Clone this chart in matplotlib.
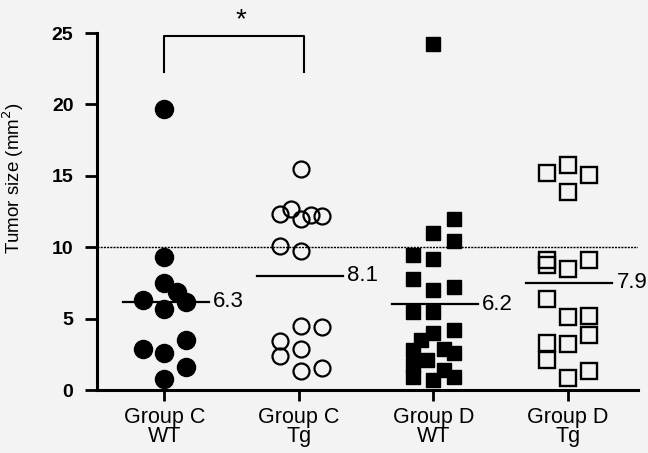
import matplotlib
matplotlib.use("Agg")
import matplotlib.pyplot as plt

plt.rcParams['font.family'] = ['Liberation Sans', 'DejaVu Sans']

groups = ['Group C\nWT', 'Group C\nTg', 'Group D\nWT', 'Group D\nTg']

# tumor sizes (mm^2) and the jitter column each point sits in
c_wt = [19.7, 9.3, 7.5, 6.9, 6.3, 6.2, 5.65, 3.5, 2.85, 2.57, 1.63, 0.77]
c_wt_col = [0, 0, 0, 0.6, -1, 1.05, 0, 1.05, -1, 0, 1.05, 0]

c_tg = [15.5, 12.3, 12.7, 12.0, 12.25, 12.2, 10.1, 9.75, 4.5, 4.4, 3.45, 2.9, 2.35, 1.35, 1.55]
c_tg_col = [0.1, -0.9, -0.4, 0.1, 0.6, 1.1, -0.9, 0.1, 0.1, 1.1, -0.9, 0.1, -0.9, 0.1, 1.1]

d_wt = [24.2, 12.0, 11.0, 10.45, 9.45, 9.2, 7.75, 7.0, 7.2, 5.5, 5.5,
        4.2, 3.97, 3.5, 2.8, 2.9, 2.6, 2.1, 1.75, 1.4, 0.93, 0.7, 0.93]
d_wt_col = [0, 1, 0, 1, -1, 0, -1, 0, 1, -1, 0,
            1, 0, -0.6, -1, 0.5, 1, -0.3, -1, 0.5, -1, 0, 1]

d_tg = [15.2, 15.75, 15.05, 13.9, 9.1, 8.75, 8.5, 9.1, 6.35, 5.1, 5.15,
        3.85, 3.3, 3.2, 2.1, 1.35, 0.82]
d_tg_col = [-1, 0, 1, 0, -1, -1, 0, 1, -1, 0, 1, 1, -1, 0, -1, 1, 0]

mean_levels = [6.2, 8.0, 6.0, 7.5]
mean_labels = ['6.3', '8.1', '6.2', '7.9']

slot = 0.155

fig = plt.figure(figsize=(6.48, 4.53), dpi=100)
fig.patch.set_facecolor('#f3f3f3')
ax = fig.add_axes([0.1497, 0.139, 0.8349, 0.788])
ax.set_facecolor('none')

def xs(i, cols):
    return [i + 1 + c * slot for c in cols]

ax.plot(xs(0, c_wt_col), c_wt, 'o', ms=13, mfc='black', mec='black', clip_on=False)
ax.plot(xs(1, c_tg_col), c_tg, 'o', ms=11.5, mfc='none', mec='black', mew=1.6, clip_on=False)
ax.plot(xs(2, d_wt_col), d_wt, 's', ms=10.5, mfc='black', mec='black', clip_on=False)
ax.plot(xs(3, d_tg_col), d_tg, 's', ms=12, mfc='none', mec='black', mew=1.7, clip_on=False)

for i in range(4):
    ax.plot([i + 1 - 0.31, i + 1 + 0.33], [mean_levels[i]] * 2, color='black', lw=1.6)
    ax.text(i + 1 + 0.36, mean_levels[i], mean_labels[i], ha='left', va='center', fontsize=16)

# reference line at 10
ax.axhline(10, color='black', lw=1, ls=(0, (1.5, 0.8)))

# significance bracket
ax.plot([1, 1, 2.04, 2.04], [22.3, 24.8, 24.8, 22.3], color='black', lw=1.5, clip_on=False)
ax.text(1.57, 25.0, '*', ha='center', va='bottom', fontsize=20)

ax.set_xlim(0.5, 4.52)
ax.set_ylim(0, 25)
ax.set_xticks([1, 2, 3, 4])
ax.set_xticklabels(groups, fontsize=15.5, linespacing=0.9)
ax.set_yticks([0, 5, 10, 15, 20, 25])
ax.set_yticklabels(['0', '5', '10', '15', '20', '25'], fontsize=14, fontweight='bold')
ax.tick_params(axis='y', length=9, width=2, pad=8)
ax.tick_params(axis='x', length=8, width=2, pad=4)

for s in ['top', 'right']:
    ax.spines[s].set_visible(False)
for s in ['left', 'bottom']:
    ax.spines[s].set_linewidth(2.2)

ax.set_ylabel('Tumor size (mm$^2$)', fontsize=13.5)
ax.yaxis.set_label_coords(-0.131, 0.594)

fig.savefig('out.png', dpi=100, facecolor=fig.get_facecolor())
